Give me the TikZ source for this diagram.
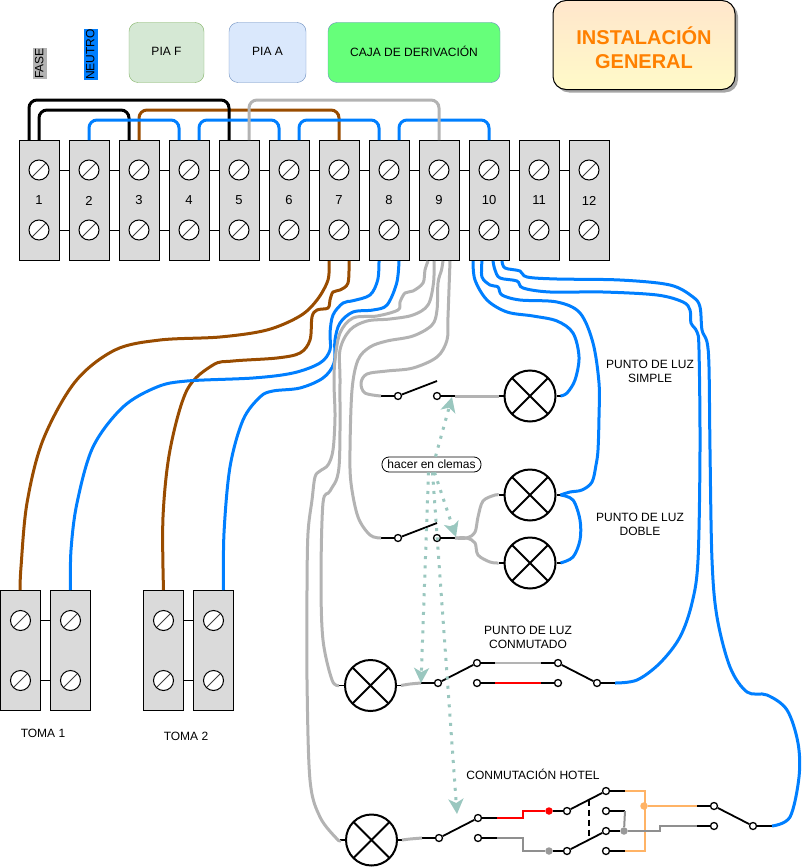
\documentclass[tikz,border=0pt]{standalone}
\usepackage{fontspec}
\setmainfont{Liberation Sans}
\usetikzlibrary{arrows.meta,shadows}
\definecolor{azul}{RGB}{0,127,255}
\definecolor{marron}{RGB}{153,76,0}
\definecolor{gris}{RGB}{179,179,179}
\definecolor{naranja}{RGB}{255,179,102}
\definecolor{menta}{RGB}{154,199,191}
\definecolor{bloque}{RGB}{218,218,218}
\newcommand{\tx}{\fontsize{12}{14}\selectfont}
\begin{document}
\begin{tikzpicture}[x=1pt,y=-1pt,
  every node/.style={font=\tx,inner sep=0pt},
  clema/.style={draw,fill=bloque,line width=1pt,minimum width=40pt,minimum height=120pt,font=\fontsize{13}{15}\selectfont},
  tornillo/.style={circle,draw,fill=white,line width=1pt,minimum size=20pt,
     path picture={\draw[black!75,line width=1pt] (path picture bounding box.south west)--(path picture bounding box.north east);}},
  lampara/.style={circle,draw,line width=2pt,minimum size=51pt,
     path picture={\draw[line width=2pt] (path picture bounding box.north west)--(path picture bounding box.south east)
        (path picture bounding box.south west)--(path picture bounding box.north east);}},
  pin/.style={circle,draw,fill=white,line width=1.3pt,minimum size=7pt},
  punto/.style={circle,minimum size=7.5pt},
  caja/.style={draw,rounded corners=9pt,minimum height=60pt,align=center,text depth=2pt},
  enlace/.style={line width=1pt},
  hilo/.style={line width=3pt,rounded corners=8pt},
  curva/.style={line width=3pt,smooth,tension=0.55},
  negro/.style={line width=1.8pt},
  fino/.style={line width=2pt},
  aviso/.style={menta,line width=3pt,dash pattern=on 3pt off 6.3pt,
     -{Stealth[length=15pt,width=15pt,inset=4pt]}}]
\useasboundingbox (0,0) rectangle (801,867);
% cabecera
\node[fill=gris,rotate=90,text height=10pt,text depth=3.5pt] (fase) at (40,63.5) {FASE};
\node[fill=azul,rotate=90,text height=10pt,text depth=3.5pt] (neutro) at (91,54.5) {NEUTRO};
\node[caja,draw={rgb,255:red,130;green,179;blue,102},fill={rgb,255:red,213;green,232;blue,212},minimum width=75pt] (piaf) at (166.5,52.5) {PIA F};
\node[caja,draw={rgb,255:red,108;green,142;blue,191},fill={rgb,255:red,218;green,232;blue,252},minimum width=77pt] (piaa) at (267.5,52.5) {PIA A};
\node[caja,draw={rgb,255:red,108;green,142;blue,191},fill={rgb,255:red,102;green,255;blue,122},minimum width=172pt] (deriv) at (414,52.5) {CAJA DE DERIVACIÓN};
\node[draw,line width=1pt,rounded corners=13pt,minimum width=182pt,minimum height=89pt,align=center,
  top color={rgb,255:red,255;green,230;blue,204},bottom color={rgb,255:red,255;green,250;blue,200},
  drop shadow={shadow xshift=3pt,shadow yshift=-3pt,fill=black!35,opacity=1},
  font=\fontsize{20}{24}\selectfont\bfseries,text={rgb,255:red,255;green,128;blue,0}] (titulo) at (644,45) {\rule{0pt}{24pt}INSTALACIÓN\\GENERAL};
% regleta
\foreach \n in {1,...,12}{
  \node[clema] (t\n) at ({39+50*(\n-1)},200.5) {\n};
  \node[tornillo] (a\n) at ({39+50*(\n-1)},170) {};
  \node[tornillo] (b\n) at ({39+50*(\n-1)},230) {};
}
\foreach \n [evaluate=\n as \m using int(\n+1)] in {1,...,11}{
  \draw[enlace] (t\n.east |- a\n) -- (t\m.west |- a\m);
  \draw[enlace] (t\n.east |- b\n) -- (t\m.west |- b\m);
}
% tomas
\foreach \k/\x in {p/20.5,q/70.5,r/163.5,s/213.5}{
  \node[clema] (t\k) at (\x,650.5) {};
  \node[tornillo] (a\k) at (\x,620.5) {};
  \node[tornillo] (b\k) at (\x,680.5) {};
}
\foreach \k/\m in {p/q,r/s}{
  \draw[enlace] (t\k.east |- a\k) -- (t\m.west |- a\m);
  \draw[enlace] (t\k.east |- b\k) -- (t\m.west |- b\m);
}
\node (toma1) at (43,733) {TOMA 1};
\node (toma2) at (186,736) {TOMA 2};
% puentes
\draw[hilo,marron] (t3.north) -- ++(0,-30) -| (t7.north);
\draw[hilo,black] ([xshift=-10pt]t1.north) -- ++(0,-40) -| ([xshift=-10pt]t5.north);
\draw[hilo,black] (t1.north) -- ++(0,-30) -| ([xshift=-10pt]t3.north);
\draw[hilo,azul] (t2.north) -- ++(0,-20) -| ([xshift=-10pt]t4.north);
\draw[hilo,azul] ([xshift=10pt]t4.north) -- ++(0,-20) -| ([xshift=-10pt]t6.north);
\draw[hilo,azul] ([xshift=10pt]t6.north) -- ++(0,-20) -| ([xshift=-10pt]t8.north);
\draw[hilo,azul] ([xshift=10pt]t8.north) -- ++(0,-20) -| (t10.north);
\draw[hilo,gris] ([xshift=10pt]t5.north) -- ++(0,-40) -| (t9.north);
% lamparas
\node[lampara] (l1) at (530,396) {};
\node[lampara] (l2) at (530,495) {};
\node[lampara] (l3) at (530,563) {};
\node[lampara] (l4) at (370.5,685.5) {};
\node[lampara] (l5) at (371.5,840) {};
\foreach \l in {1,...,5}{
  \draw[negro] (l\l.west) -- ++(-5,0) coordinate (l\l w);
  \draw[negro] (l\l.east) -- ++(4,0) coordinate (l\l e);
}
% interruptores
\foreach \k/\y in {1/396,2/538}{
  \node[pin] (s\k a) at (398,\y) {};
  \node[pin] (s\k b) at (437,\y) {};
  \coordinate (s\k l) at (381,\y);
  \coordinate (s\k r) at (455,\y);
  \coordinate (s\k t) at (437,\y-15);
  \draw[negro] (s\k l) -- (s\k a);
  \draw[negro] (s\k a) -- (s\k t);
  \draw[negro] (s\k b) -- (s\k r);
}
\draw[curva,gris] plot coordinates {(s1r) (480,396) (l1w)};
\draw[curva,gris] plot coordinates {(s2r) (467,538) (475,532) (478,517) (483,501) (495,495) (l2w)};
\draw[curva,gris] plot coordinates {(s2r) (467,538) (475,543) (478,555) (490,562) (l3w)};
\node (simple) at (650,371) [align=center] {PUNTO DE LUZ\\SIMPLE};
\node (doble) at (640,524) [align=center] {PUNTO DE LUZ\\DOBLE};
\node (conm) at (528,637) [align=center] {PUNTO DE LUZ\\CONMUTADO};
\node (hotel) at (533,774) {CONMUTACIÓN HOTEL};
% conmutado
\foreach \k/\x/\y in {1/438/683,2/477/663,3/477/683,4/558/663,5/558/683,6/597/683}
  \node[pin] (c\k) at (\x,\y) {};
\coordinate (c0) at (421,683);
\coordinate (c7) at (615,683);
\draw[negro] (c0) -- (c1);
\draw[negro] (c1) -- (c2);
\draw[negro] (c2) -- (c4);
\draw[negro] (c3) -- (c5);
\draw[negro] (c4) -- (c6);
\draw[negro] (c6) -- (c7);
\draw[line width=2.5pt,gris] ([xshift=18pt]c2.center) -- ([xshift=-17pt]c4.center);
\draw[line width=2.5pt,red] ([xshift=18pt]c3.center) -- ([xshift=-17pt]c5.center);
\draw[curva,gris] plot coordinates {(l4e) (410,684) (c0)};
% hotel
\foreach \k/\x/\y in {1/439/838,2/478/818,3/478/838,5/567/811,6/606/791,7/606/811,8/606/831,9/606/851,11/567/851,14/714/806,15/714/826,16/753/826}
  \node[pin] (h\k) at (\x,\y) {};
\node[punto,fill=red] (h4) at (549,811) {};
\node[punto,fill=black!40] (h10) at (549,851) {};
\node[punto,fill=black!40] (h12) at (624,831) {};
\node[punto,fill=naranja] (h13) at (644,806) {};
\coordinate (h0) at (422,838);
\coordinate (h17) at (772,826);
\draw[negro] (h0) -- (h1);
\draw[negro] (h1) -- (h2);
\draw[negro] (h2) -- ([xshift=19pt]h2.center);
\draw[negro] (h3) -- ([xshift=19pt]h3.center);
\draw[negro] (h4) -- (h5);
\draw[negro] (h10) -- (h11);
\draw[negro] (h5) -- coordinate[pos=.59] (d1) (h6);
\draw[negro] (h11) -- coordinate[pos=.59] (d2) (h8);
\draw[negro,dash pattern=on 6pt off 4pt] (d1) -- (d2);
\draw[negro] (h6) -- ([xshift=19pt]h6.center);
\draw[negro] (h7) -- ([xshift=19pt]h7.center);
\draw[negro] (h8) -- (h12);
\draw[negro] (h9) -- ([xshift=19pt]h9.center);
\draw[negro] ([xshift=-17pt]h14.center) -- (h14);
\draw[negro] ([xshift=-17pt]h15.center) -- (h15);
\draw[negro] (h14) -- (h16);
\draw[negro] (h16) -- (h17);
\draw[fino,red] ([xshift=19pt]h2.center) -- ++(26,0) |- (h4);
\draw[fino,gris!80!black] ([xshift=19pt]h3.center) -- ++(26,0) |- (h10);
\draw[fino,naranja] ([xshift=19pt]h6.center) -- ++(20,0) |- ([xshift=19pt]h9.center);
\draw[fino,naranja] (h13) -- ([xshift=-17pt]h14.center);
\draw[fino,gris!80!black] ([xshift=19pt]h7.center) -- (h12);
\draw[fino,gris!80!black] (h12) -- ++(36,0) |- ([xshift=-17pt]h15.center);
\draw[curva,gris] plot coordinates {(l5e) (410,839) (h0)};
% cables
\draw[curva,marron] plot coordinates {([xshift=-10pt]t7.south) (328,280) (317,300) (300,316) (267,330) (220,337) (160,340) (115,350) (75,382) (43,440) (27,503) (21,567) ([xshift=-.5pt]tp.north)};
\draw[curva,marron] plot coordinates {([xshift=10pt]t7.south) (348,283) (340,290) (333,292) (330,300) (328,308) (317,310) (312,317) (310,340) (300,353) (277,358) (233,361) (213,365) (187,390) (170,450) (163,517) (tr.north)};
\draw[curva,azul] plot coordinates {([xshift=-10pt]t8.south) (377.7,280) (370,295) (353,300.7) (343,303) (333,315) (330,333) (330,350) (320,363) (293,373) (253,378) (187,381) (157,387) (123,407) (93,447) (77,503) (71,550) (tq.north)};
\draw[curva,azul] plot coordinates {([xshift=10pt]t8.south) (396.7,283) (387,305) (373,310) (353,312) (340,323) (335,340) (334,363) (323,378) (300,388) (273,391) (260,397) (243,420) (230,467) (224,533) ([xshift=10pt]ts.north)};
\draw[curva,gris] plot coordinates {([xshift=-11pt]t9.south) (425,270) (423,283) (413,291) (405,293) (400,302) (398,310) (377,316) (353,318) (340,333) (335,360) (334,383) (335,417) (333,450) (328,465) (320,471) (315,477) (312,500) (308,533) (307,590) (307,680) (310,780) (320,817) (337,839) (l5w)};
\draw[curva,gris] plot coordinates {([xshift=-5pt]t9.south) (433.5,283) (428,305) (413,315) (390,319) (367,321) (350,330) (340,350) (340,383) (339,467) (330,491) (323,503) (321,580) (323,640) (332,680) (l4w)};
\draw[curva,gris] plot coordinates {([xshift=4pt]t9.south) (441.5,270) (438,283) (437,310) (432,325) (413,336) (387,341) (370,347) (358,360) (352,390) (350,450) (351,483) (358,517) (370,535) (s2l)};
\draw[curva,gris] plot coordinates {([xshift=11pt]t9.south) (448,317) (447,340) (437,357) (413,368) (387,371) (367,374) (361,383) (365,393) (s1l)};
\draw[curva,azul] plot coordinates {([xshift=-16pt]t10.south) (475,280) (487,300) (507,312) (533,316) (557,321) (573,333) (579,357) (575,380) (567,393) (l1e)};
\draw[curva,azul] plot coordinates {([xshift=-7pt]t10.south) (482,277) (490,285) (498,287) (502,295) (520,300) (557,302) (580,313) (593,343) (599,383) (599,417) (598,450) (596,465) (592,482) (582,490) (570,492) (l2e)};
\draw[curva,azul] plot coordinates {(l2e) (573,500) (580,520) (580,540) (573,557) (l3e)};
\draw[curva,azul] plot coordinates {([xshift=4pt]t10.south) (495,270) (500,278) (517,281) (523,288) (550,292) (603,292) (657,295) (683,302) (690,310) (691,323) (697,332) (699,350) (700,450) (698,560) (692,603) (680,637) (660,663) (637,680) (c7)};
\draw[curva,azul] plot coordinates {([xshift=13pt]t10.south) (505,268) (520,271) (527,277) (557,279) (620,280) (670,285) (693,297) (700,307) (702,330) (707,342) (709,367) (710,450) (712,560) (717,617) (730,667) (747,692) (767,695) (787,710) (798,743) (799,777) (790,817) (h17)};
% aviso
\node[draw,line width=.8pt,fill=white,rounded corners=7pt,minimum width=99pt,minimum height=15pt] (clemas) at (431.5,464.5) {hacer en clemas};
\coordinate (f1) at (452,397);
\coordinate (f2) at (456,537);
\coordinate (f3) at (421,683);
\coordinate (f4) at (457,814);
\draw[aviso] ([xshift=4pt]clemas.north) -- (f1);
\draw[aviso] ([xshift=3pt]clemas.south) -- (f2);
\draw[aviso] ([xshift=-3pt]clemas.south) -- (f3);
\draw[aviso] ([xshift=1pt]clemas.south) -- (f4);
\end{tikzpicture}
\end{document}
